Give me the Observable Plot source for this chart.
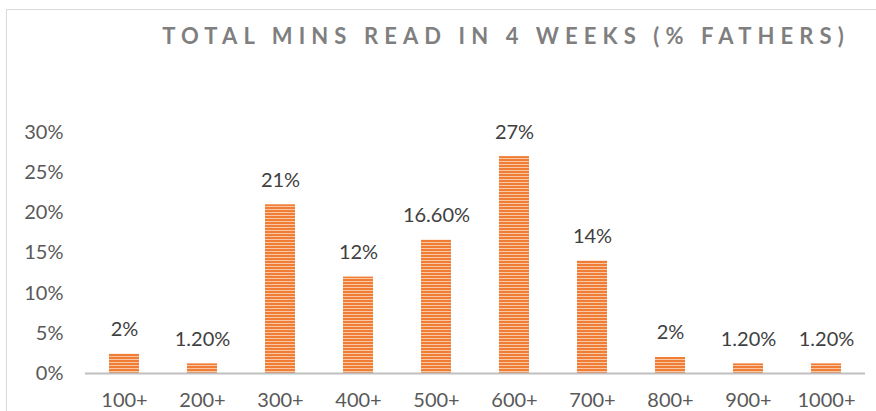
<!DOCTYPE html>
<html>
<head>
<meta charset="utf-8">
<script src="https://cdn.jsdelivr.net/npm/d3@7"></script>
<script src="https://cdn.jsdelivr.net/npm/@observablehq/plot@0.6"></script>
<style>
  html, body { margin: 0; padding: 0; background: #fff; }
  #wrap { position: relative; width: 876px; height: 411px; overflow: hidden; }
  #border { position: absolute; left: 6px; top: 9px; width: 900px; height: 500px; border-left: 1.5px solid #d9d9d9; border-top: 1.5px solid #d9d9d9; box-sizing: border-box; }
  #title { position: absolute; left: 0; width: 1012px; top: 22px; text-align: center; font-family: Lato, "Open Sans", sans-serif; font-weight: bold; font-size: 22px; letter-spacing: 6.1px; color: #7f7f7f; white-space: nowrap; }
  #chart { position: absolute; left: 0; top: 0; }
</style>
</head>
<body>
<div id="wrap">
  <div id="border"></div>
  <div id="title">TOTAL MINS READ IN 4 WEEKS (% FATHERS)</div>
  <div id="chart"></div>
</div>
<script>
const categories = ["100+", "200+", "300+", "400+", "500+", "600+", "700+", "800+", "900+", "1000+"];
const values = [2.4, 1.2, 21, 12, 16.6, 27, 14, 2, 1.2, 1.2];
const valueLabels = ["2%", "1.20%", "21%", "12%", "16.60%", "27%", "14%", "2%", "1.20%", "1.20%"];
const yTicks = [0, 5, 10, 15, 20, 25, 30];

const data = categories.map((c, i) => ({cat: c, value: values[i], label: valueLabels[i]}));

const chart = Plot.plot({
  width: 876,
  height: 411,
  marginLeft: 85,
  marginRight: 11,
  marginTop: 132,
  marginBottom: 38,
  style: {background: "transparent", fontFamily: "Lato, 'Open Sans', sans-serif", fontSize: "20px", color: "#595959", overflow: "visible"},
  x: {domain: categories, paddingInner: 0.615, paddingOuter: 0.3075, label: null},
  y: {domain: [0, 30], ticks: yTicks, label: null, tickFormat: d => d + "%"},
  marks: [
    Plot.axisY({ticks: yTicks, tickSize: 0, tickPadding: 22, tickFormat: d => d + "%", fill: "#595959", fontSize: 20, label: null}),
    Plot.axisX({tickSize: 0, tickPadding: 19, fill: "#595959", fontSize: 20, label: null}),
    Plot.barY(data, {x: "cat", y: "value", fill: "url(#stripes)"}),
    Plot.ruleY([0], {stroke: "#bfbfbf", strokeWidth: 2}),
    Plot.text(data, {x: "cat", y: "value", text: "label", lineAnchor: "bottom", dy: -18, fill: "#404040", fontSize: 20})
  ]
});

const svg = d3.select(chart);
const defs = svg.insert("defs", ":first-child");
const pat = defs.append("pattern")
  .attr("id", "stripes")
  .attr("patternUnits", "userSpaceOnUse")
  .attr("width", 8).attr("height", 3);
pat.append("rect").attr("width", 8).attr("height", 3).attr("fill", "#f9c7a3");
pat.append("rect").attr("width", 8).attr("height", 2).attr("fill", "#ef7d35");

document.getElementById("chart").appendChild(chart);
</script>
</body>
</html>
